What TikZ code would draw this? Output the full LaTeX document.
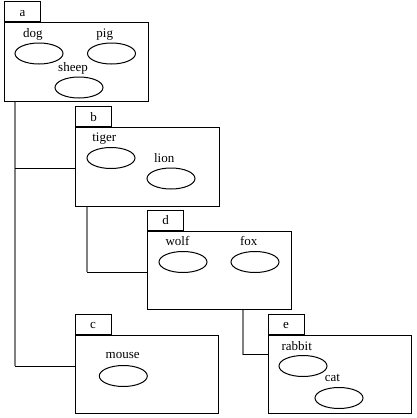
\documentclass[tikz,border=0pt]{standalone}
\usepackage{fontspec}
\setmainfont{Liberation Serif}
\usetikzlibrary{shapes,calc}

\tikzset{
  box/.style = {draw, line width = 1pt, minimum width = 143.5pt, minimum height = 78.5pt, anchor = north west, inner sep = 0pt},
  tab/.style = {draw, line width = 1pt, minimum width = 36pt, minimum height = 20pt, anchor = south west, inner sep = 0pt, text height = 9pt, text depth = 0pt},
  pen/.style = {draw, ellipse, line width = 1pt, minimum width = 48pt, minimum height = 21pt, inner sep = 0pt},
  tag/.style = {anchor = base, inner sep = 0pt},
  trunk/.style = {line width = 1.3pt, gray},
  twig/.style = {line width = 1pt}
}

\begin{document}
\begin{tikzpicture}[x = 1pt, y = -1pt, font = \fontsize{13}{15}\selectfont]
\useasboundingbox (0,0) rectangle (417,418);
\node[box] (a) at (4,22) {};
\node[tab] (atab) at (a.north west) {a};
\node[box] (b) at (75,127) {};
\node[tab] (btab) at (b.north west) {b};
\node[box] (d) at (147,230.5) {};
\node[tab] (dtab) at (d.north west) {d};
\node[box] (c) at (74.5,334.5) {};
\node[tab] (ctab) at (c.north west) {c};
\node[box] (e) at (267.5,334.5) {};
\node[tab] (etab) at (e.north west) {e};

\node[pen] (dog) at (39,53.5) {};
\node[tag] (dogtxt) at (33,37.8) {dog};
\node[pen] (pig) at (111.5,53.5) {};
\node[tag] (pigtxt) at (104.7,37.8) {pig};
\node[pen] (sheep) at (79,87.5) {};
\node[tag] (sheeptxt) at (73,71.6) {sheep};
\node[pen] (tiger) at (111,158) {};
\node[tag] (tigertxt) at (104.2,141.5) {tiger};
\node[pen] (lion) at (171,178.5) {};
\node[tag] (liontxt) at (164.2,162.2) {lion};
\node[pen] (wolf) at (183,262) {};
\node[tag] (wolftxt) at (177.5,245.6) {wolf};
\node[pen] (fox) at (255,262) {};
\node[tag] (foxtxt) at (248.7,245.6) {fox};
\node[pen] (mouse) at (123.3,376) {};
\node[tag] (mousetxt) at (122.7,358.3) {mouse};
\node[pen] (rabbit) at (303,366) {};
\node[tag] (rabbittxt) at (296.8,350) {rabbit};
\node[pen] (cat) at (339,398) {};
\node[tag] (cattxt) at (332.5,381) {cat};

\coordinate (ja) at ([xshift = 11pt]a.south west);
\coordinate (jb) at (15,168);
\coordinate (jc) at (15,366);
\draw[trunk] (ja) -- (jc);
\draw[twig] (jb) -- (jb -| b.west);
\draw[twig] (jc) -- (jc -| c.west);
\coordinate (jd) at (87,272);
\draw[trunk] ([xshift = 12pt]b.south west) -- (jd);
\draw[twig] (jd) -- (jd -| d.west);
\coordinate (je) at (243,354.5);
\draw[trunk] ([xshift = 96pt]d.south west) -- (je);
\draw[twig] (je) -- (je -| e.west);
\end{tikzpicture}
\end{document}
